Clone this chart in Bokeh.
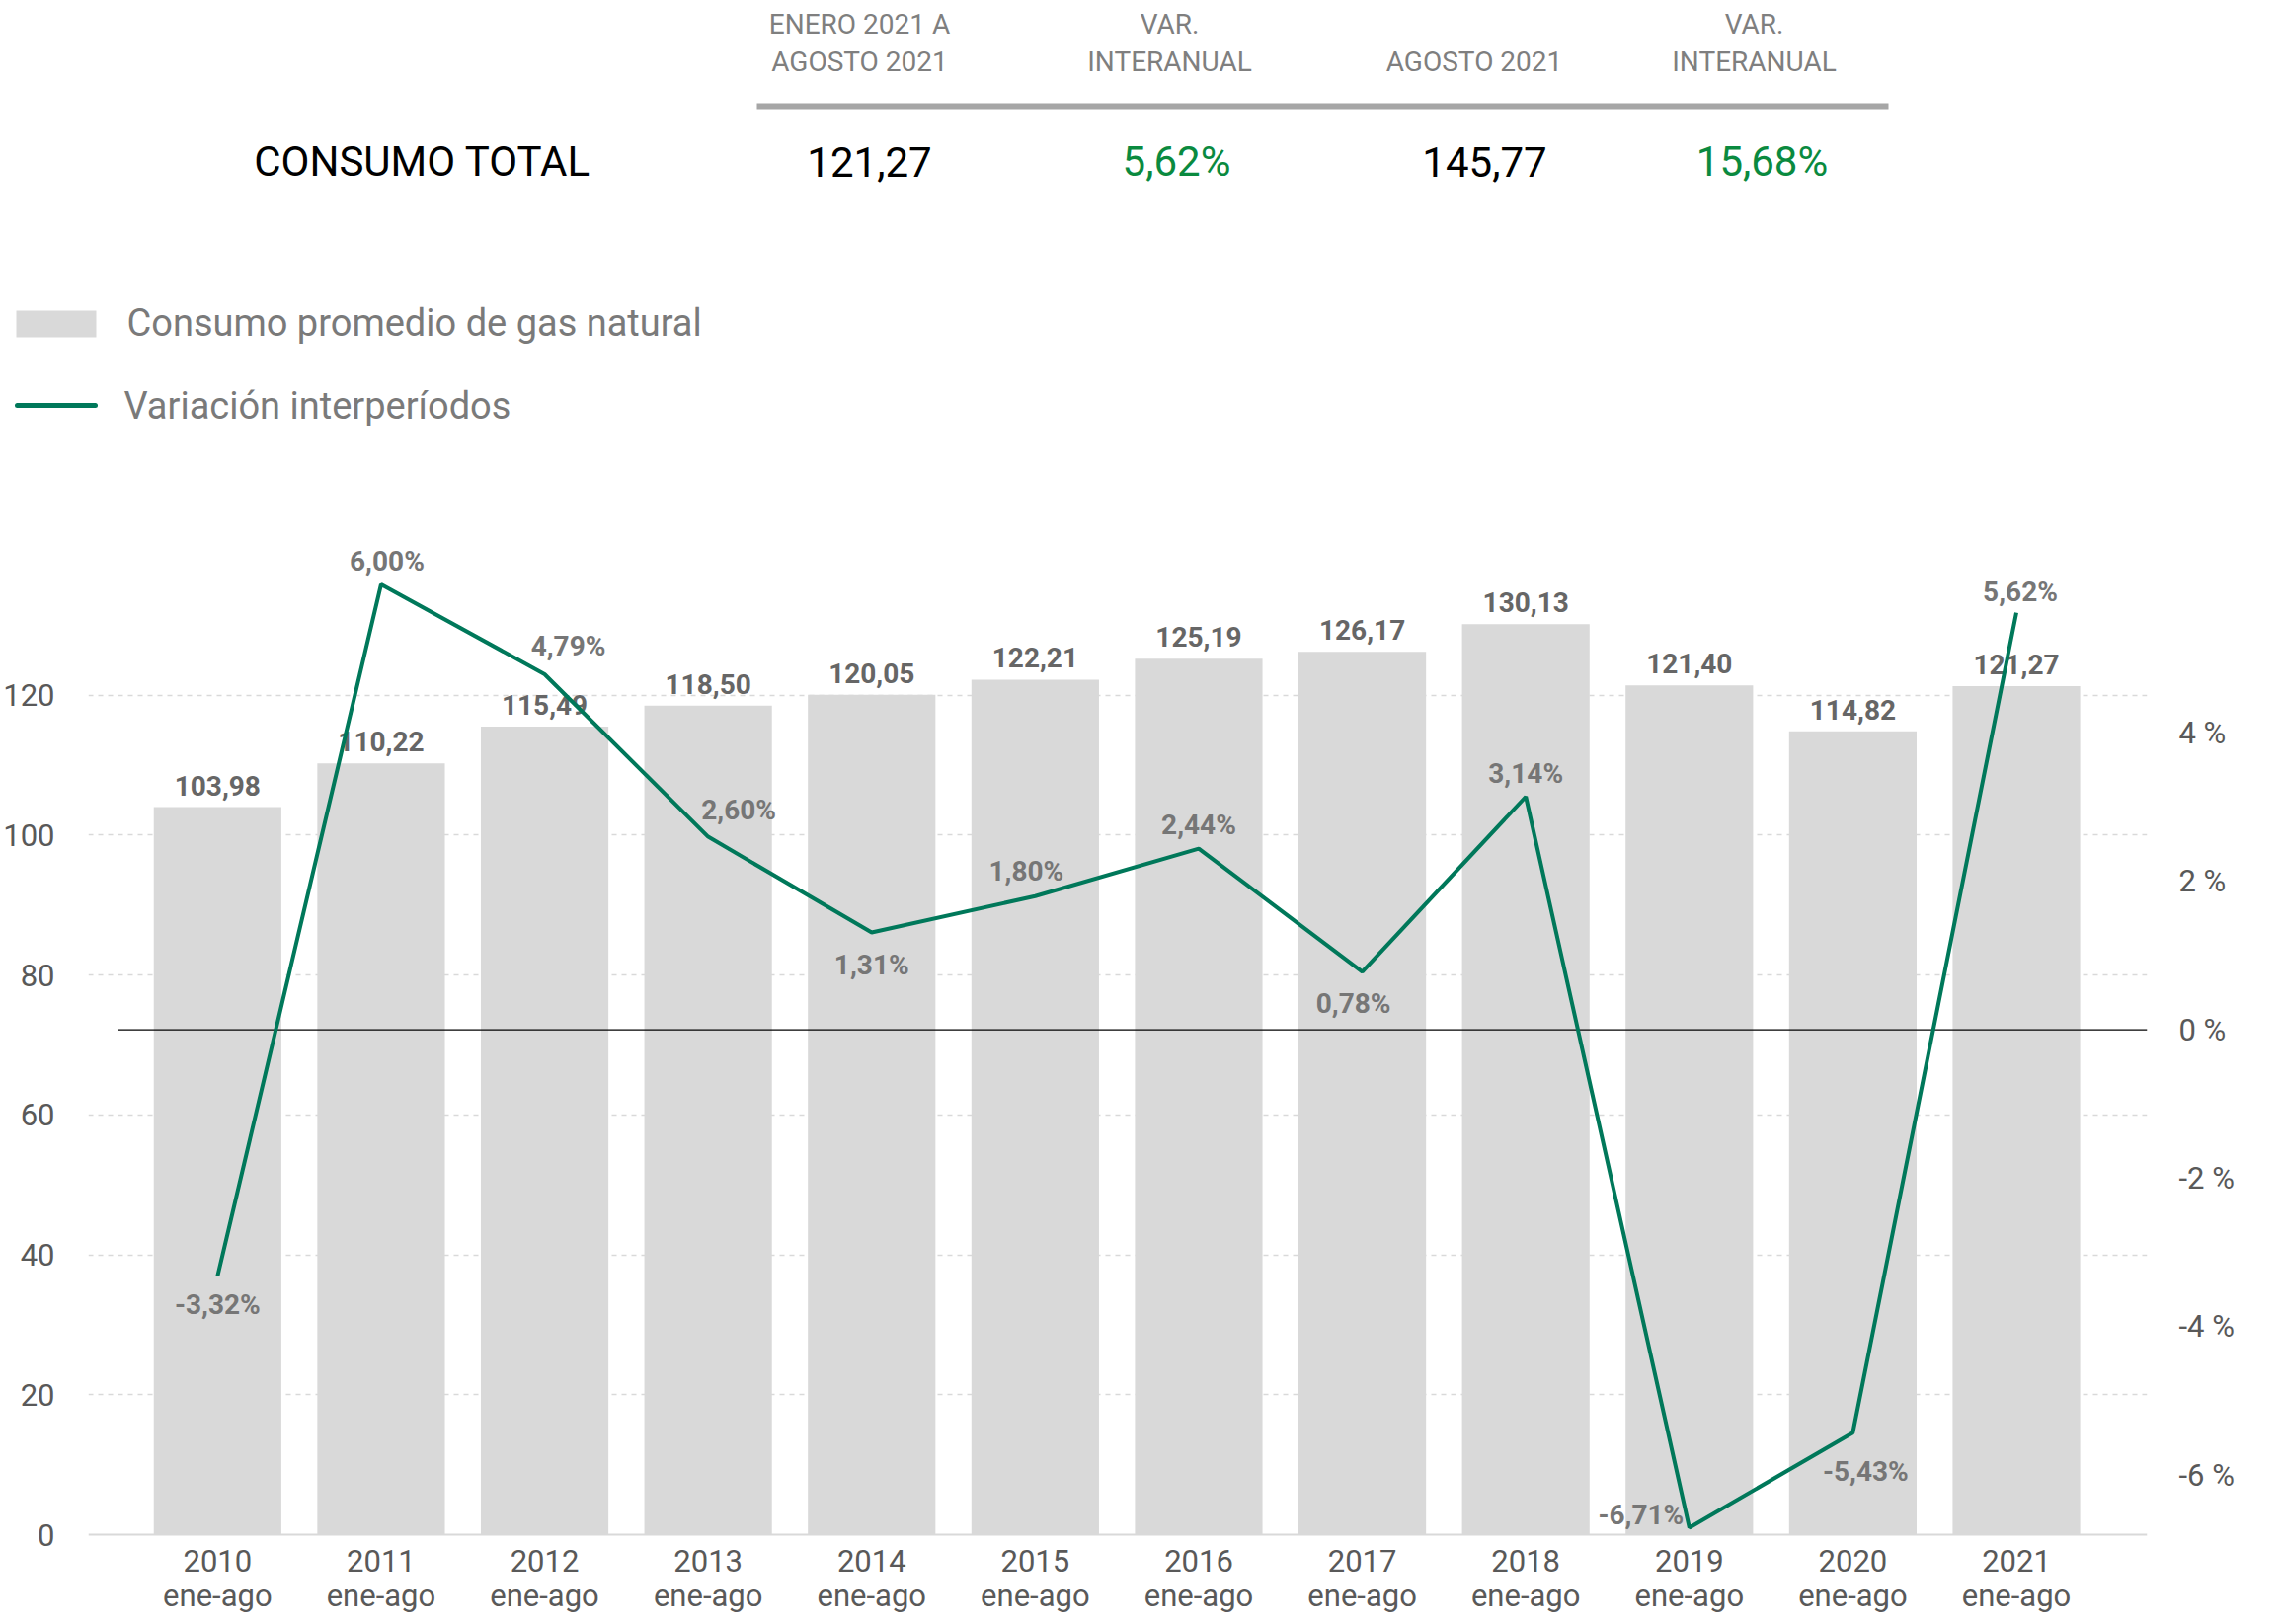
from bokeh.plotting import figure
from bokeh.models import Range1d, LinearAxis, FixedTicker, ColumnDataSource
from bokeh.layouts import column
from bokeh.embed import file_html
from bokeh.resources import INLINE
from bokeh.core.properties import value

# ---------------- data ----------------
years = ["2010", "2011", "2012", "2013", "2014", "2015",
         "2016", "2017", "2018", "2019", "2020", "2021"]
period = "ene-ago"
consumo = [103.98, 110.22, 115.49, 118.50, 120.05, 122.21,
           125.19, 126.17, 130.13, 121.40, 114.82, 121.27]
variacion = [-3.32, 6.00, 4.79, 2.60, 1.31, 1.80,
             2.44, 0.78, 3.14, -6.71, -5.43, 5.62]
left_ticks = [0, 20, 40, 60, 80, 100, 120]
right_ticks = [-6, -4, -2, 0, 2, 4]

header_titles = [["ENERO 2021 A", "AGOSTO 2021"], ["VAR.", "INTERANUAL"],
                 ["", "AGOSTO  2021"], ["VAR.", "INTERANUAL"]]
row_label = "CONSUMO TOTAL"
row_values = [121.27, 5.62, 145.77, 15.68]
row_is_pct = [False, True, False, True]
legend_labels = ["Consumo promedio de gas natural", "Variación interperíodos"]

# label placement (style, px): offsets of the % labels from their points
pct_dx = [0, 6, 24, 31, 0, -9, 0, -9, 0, -49, 13, 4]
pct_dy = [25, -28, -32, -31, 29, -29, -28, 28, -27, -17, 35, -25]

FONT = value("Roboto")
BAR_COLOR = "#D9D9D9"
LINE_COLOR = "#00785A"
GREEN_TXT = "#0A8A3F"
GREY_TXT = "#7A7A7A"
TICK_TXT = "#595959"


def fmt(v, pct=False):
    s = f"{v:.2f}".replace(".", ",")
    return s + "%" if pct else s


W = 2295
HEAD_H = 500
ORIGIN_X = 0            # measured page x of the header's left edge
ORIGIN_Y = 1            # measured page y of the layout's top edge
BL, BR = 80, 121        # chart left / right borders

# ---------------- header figure (page pixel coordinates, y down) ----------------
h = figure(width=W, height=HEAD_H, x_range=Range1d(ORIGIN_X, ORIGIN_X + W),
           y_range=Range1d(ORIGIN_Y + HEAD_H, ORIGIN_Y),
           output_backend="svg", toolbar_location=None,
           x_axis_location=None, y_axis_location=None, min_border=0,
           min_border_left=0, min_border_right=0, min_border_top=0, min_border_bottom=0)
if "frame_align" in h.properties():
    h.frame_align = False
h.grid.visible = False
h.outline_line_color = None

col_x = [870, 1184, 1496, 1776]
val_x = [880, 1191, 1503, 1784]
for cx, lines in zip(col_x, header_titles):
    for ly, t in zip([25, 63], lines):
        if t:
            h.text(x=[cx], y=[ly], text=[t], text_font=FONT, text_font_size=value("28px"),
                   text_color="#7F7F7F", text_align="center", text_baseline="middle")
h.segment(x0=[766], y0=[108], x1=[1912], y1=[108], line_color="#A6A6A6", line_width=6)
h.text(x=[427], y=[164], text=[row_label], text_font=FONT, text_font_size=value("42px"),
       text_color="#000000", text_align="center", text_baseline="middle")
for vx, v, isp in zip(val_x, row_values, row_is_pct):
    h.text(x=[vx], y=[164], text=[fmt(v, isp)], text_font=FONT, text_font_size=value("42px"),
           text_color=GREEN_TXT if isp else "#000000", text_align="center", text_baseline="middle")

# legend
h.quad(left=[16], right=[97], top=[315], bottom=[342], fill_color=BAR_COLOR, line_color=None)
h.text(x=[128], y=[327], text=[legend_labels[0]], text_font=FONT, text_font_size=value("38px"),
       text_color=GREY_TXT, text_align="left", text_baseline="middle")
h.segment(x0=[17], y0=[411], x1=[96], y1=[411], line_color=LINE_COLOR, line_width=5,
          line_cap="round")
h.text(x=[125], y=[411], text=[legend_labels[1]], text_font=FONT, text_font_size=value("38px"),
       text_color=GREY_TXT, text_align="left", text_baseline="middle")

# ---------------- chart figure ----------------
PX_PER_UNIT = 7.087                           # px per left-axis unit
FRAME_TOP = 550
FRAME_BOTTOM = 1641
ZERO_Y = 1555
TOP_BORDER = FRAME_TOP - (ORIGIN_Y + HEAD_H)
FRAME_H = FRAME_BOTTOM - FRAME_TOP
YMAX = (ZERO_Y - FRAME_TOP) / PX_PER_UNIT
YMIN = -(FRAME_BOTTOM - ZERO_Y) / PX_PER_UNIT
ZERO_AT = 72.17          # left-axis value where 0 % sits
PER_PCT = 10.607         # left-axis units per 1 %
r_start = (YMIN - ZERO_AT) / PER_PCT
r_end = (YMAX - ZERO_AT) / PER_PCT
X0, X1 = -0.79, 11.8

xs = list(range(len(years)))
src = ColumnDataSource(dict(
    x=xs, consumo=consumo, var=variacion,
    clab=[fmt(v) for v in consumo],
    vlab=[fmt(v, True) for v in variacion],
    dx=pct_dx, dy=[d + 4 for d in pct_dy],
    year=years, per=[period] * len(years), zero=[0] * len(years),
))

p = figure(width=W, height=TOP_BORDER + FRAME_H, x_range=Range1d(X0, X1),
           y_range=Range1d(YMIN, YMAX),
           output_backend="svg", toolbar_location=None, x_axis_location=None,
           min_border_left=BL, min_border_right=BR, min_border_top=TOP_BORDER,
           min_border_bottom=0)
if "frame_align" in p.properties():
    p.frame_align = False
p.outline_line_color = None
p.extra_y_ranges = {"pct": Range1d(r_start, r_end)}

p.vbar(x="x", top="consumo", width=0.78, source=src, fill_color=BAR_COLOR, line_color=None)
p.text(x="x", y="consumo", text="clab", source=src, text_font=FONT,
       text_font_size=value("28px"), text_font_style="bold", text_color="#666666",
       text_align="center", text_baseline="alphabetic", y_offset=-22)

# category axis (baseline + two-line labels)
p.segment(x0=[X0], y0=[0], x1=[X1], y1=[0], line_color="#D9D9D9", line_width=2)
p.text(x="x", y="zero", text="year", source=src, text_font=FONT,
       text_font_size=value("31px"), text_color=TICK_TXT,
       text_align="center", text_baseline="middle", y_offset=26)
p.text(x="x", y="zero", text="per", source=src, text_font=FONT,
       text_font_size=value("31px"), text_color=TICK_TXT,
       text_align="center", text_baseline="middle", y_offset=62)

p.segment(x0=[-0.61], y0=[0], x1=[X1], y1=[0], y_range_name="pct",
          line_color="#000000", line_width=1.2)
p.line(x="x", y="var", source=src, y_range_name="pct", line_color=LINE_COLOR, line_width=4)
p.text(x="x", y="var", text="vlab", source=src, y_range_name="pct", text_font=FONT,
       text_font_size=value("28px"), text_font_style="bold", text_color="#767676",
       text_align="center", text_baseline="alphabetic", x_offset="dx", y_offset="dy")

ya = p.yaxis[0]
ya.ticker = FixedTicker(ticks=left_ticks)
ya.axis_line_color = None
ya.major_tick_line_color = None
ya.minor_tick_line_color = None
ya.major_label_text_font = "Roboto"
ya.major_label_text_font_size = "31px"
ya.major_label_text_color = TICK_TXT
ya.major_label_standoff = 28

ra = LinearAxis(y_range_name="pct", ticker=FixedTicker(ticks=right_ticks))
ra.major_label_overrides = {t: f"{t} %" for t in right_ticks}
ra.axis_line_color = None
ra.major_tick_line_color = None
ra.minor_tick_line_color = None
ra.major_label_text_font = "Roboto"
ra.major_label_text_font_size = "31px"
ra.major_label_text_color = TICK_TXT
ra.major_label_standoff = 26
p.add_layout(ra, "right")

p.xgrid.visible = False
p.ygrid[0].ticker = FixedTicker(ticks=left_ticks[1:])
p.ygrid.grid_line_color = "#D9D9D9"
p.ygrid.grid_line_dash = "5 5"
p.ygrid.grid_line_width = 1.5

layout = column(h, p, spacing=0)
open("out.html", "w").write(file_html(layout, INLINE))
